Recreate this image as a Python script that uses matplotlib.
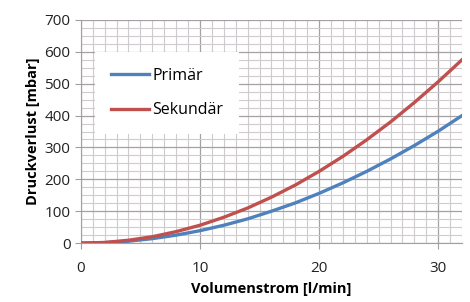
import matplotlib
matplotlib.use("Agg")
import matplotlib.pyplot as plt
from matplotlib.ticker import MultipleLocator

# Volumenstrom [l/min] and read-off pressure losses [mbar]
flow = [0, 2, 4, 6, 8, 10, 12, 14, 16, 18, 20, 22, 24, 26, 28, 30, 32]
primaer = [0, 1.5, 6, 14, 25, 39, 56, 76, 100, 126, 156, 189, 225, 264, 306, 351, 400]
sekundaer = [0, 2, 9, 20, 36, 56, 81, 110, 144, 182, 225, 272, 324, 380, 441, 506, 575]

plt.rcParams['font.family'] = ['Open Sans', 'DejaVu Sans']

fig = plt.figure(figsize=(4.7, 3.02), dpi=100)
ax = fig.add_axes([0.172, 0.195, 0.811, 0.739])

ax.plot(flow, primaer, color="#4F81BD", lw=2.4, label="Primär", zorder=3)
ax.plot(flow, sekundaer, color="#C0504D", lw=2.4, label="Sekundär", zorder=3)

ax.set_xlim(0, 32)
ax.set_ylim(0, 700)
ax.xaxis.set_major_locator(MultipleLocator(10))
ax.xaxis.set_minor_locator(MultipleLocator(1))
ax.yaxis.set_major_locator(MultipleLocator(100))
ax.yaxis.set_minor_locator(MultipleLocator(25))
ax.grid(which="major", color="#a4a0a4", lw=0.9)
ax.grid(which="minor", color="#cfcacd", lw=0.8)
ax.set_axisbelow(True)

for s in ["top", "right"]:
    ax.spines[s].set_visible(False)
for s in ["left", "bottom"]:
    ax.spines[s].set_color("#a0a0a0")
ax.tick_params(which="major", length=4, color="#a0a0a0", labelsize=11, labelcolor="#222222")
ax.tick_params(which="minor", length=0)
ax.tick_params(axis="x", pad=9)

ax.set_xlabel("Volumenstrom [l/min]", fontsize=10.5, fontweight="bold", labelpad=4)
ax.set_ylabel("Druckverlust [mbar]", fontsize=10.5, fontweight="bold", labelpad=3)

leg = ax.legend(loc="upper left", bbox_to_anchor=(0.037, 0.857), fontsize=11.5,
                frameon=True, fancybox=False, edgecolor="white", framealpha=1,
                handlelength=2.4, handletextpad=0.2, labelspacing=1.15,
                borderpad=1.0, borderaxespad=0)
leg.get_frame().set_linewidth(0)

plt.savefig("out.png", dpi=100)
plt.close()
